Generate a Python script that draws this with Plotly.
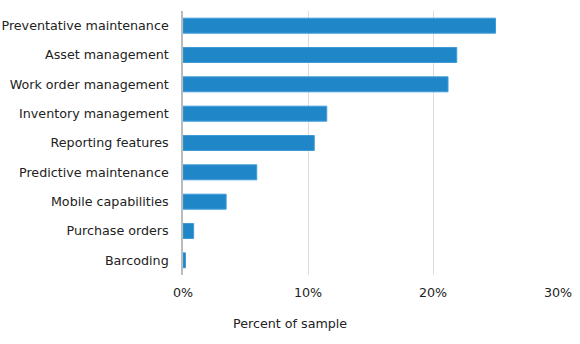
import plotly.graph_objects as go

categories = ["Preventative maintenance", "Asset management", "Work order management",
              "Inventory management", "Reporting features", "Predictive maintenance",
              "Mobile capabilities", "Purchase orders", "Barcoding"]
values = [25.0, 21.9, 21.2, 11.5, 10.5, 5.9, 3.45, 0.85, 0.2]
x_ticks = [0, 10, 20, 30]
x_tick_labels = ["0%", "10%", "20%", "30%"]

fig = go.Figure(go.Bar(
    x=values, y=categories, orientation="h",
    marker=dict(color="#1f87c8", line=dict(color="#3d9bd8", width=1)),
    hoverinfo="x+y",
))

fig.update_layout(
    width=580, height=344,
    margin=dict(l=183, r=22, t=11, b=69),
    paper_bgcolor="white", plot_bgcolor="white",
    font=dict(family="DejaVu Sans, Verdana, sans-serif", size=12.7, color="#222"),
    bargap=0.49,
    showlegend=False,
    xaxis=dict(range=[0, 30], tickvals=x_ticks, ticktext=x_tick_labels,
               showgrid=True, gridcolor="#dcdcdc", gridwidth=1,
               zeroline=False, showline=False, ticks="", ticklen=0,
               automargin=False, ticklabelstandoff=8,
               tickfont=dict(size=12.7, color="#222")),
    yaxis=dict(categoryorder="array", categoryarray=categories[::-1],
               showgrid=False, zeroline=False, showline=True, linecolor="#bbbbbb",
               linewidth=1.5, ticks="", ticklen=0,
               automargin=False, ticklabelstandoff=10,
               tickfont=dict(size=12.7, color="#222")),
    annotations=[dict(text="Percent of sample", xref="paper", yref="paper",
                      x=0.285, y=-0.182, showarrow=False,
                      xanchor="center", yanchor="middle",
                      font=dict(size=12.7, color="#222"))],
)

fig.write_html("out.html")
